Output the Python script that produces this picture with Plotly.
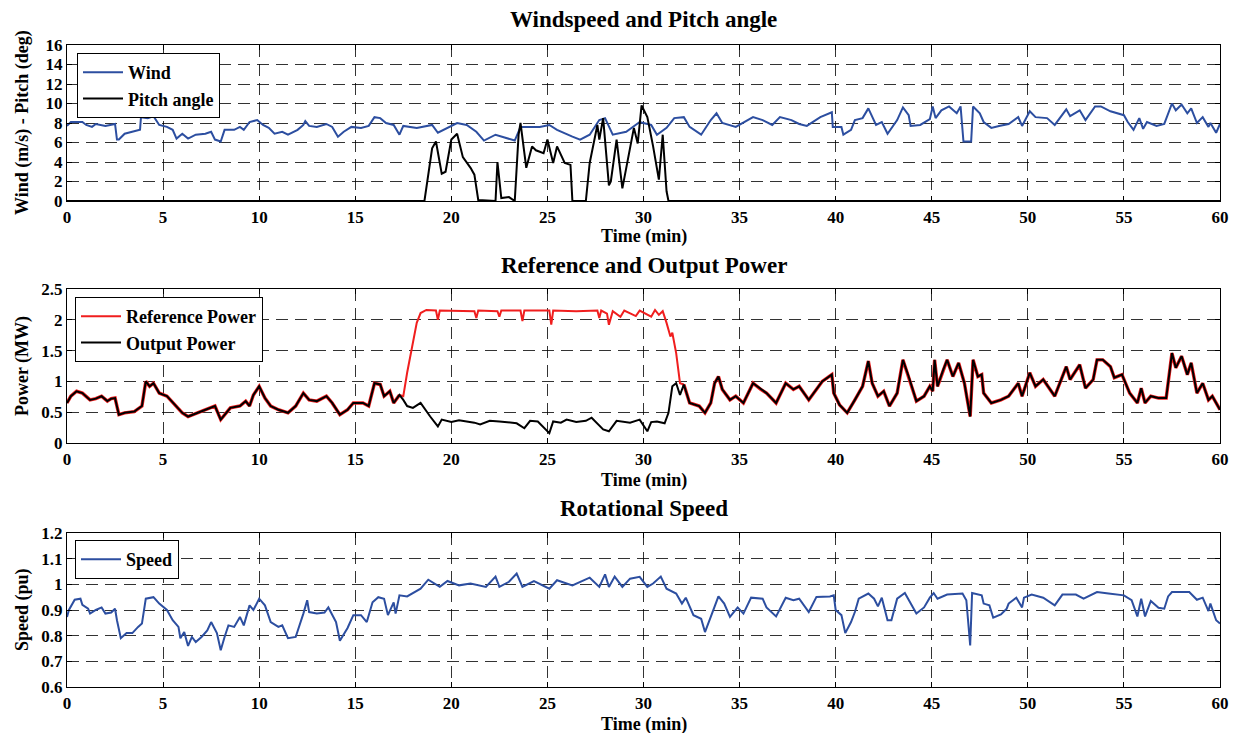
import plotly.graph_objects as go
from plotly.subplots import make_subplots

# ---- Windspeed and pitch angle ----
wind_t = [0, 0.2, 0.8, 1.0, 1.3, 1.5, 2.0, 2.5, 2.6, 2.7, 3.0, 3.5, 3.8, 3.85, 4.2, 4.5, 4.8,
          5.2, 5.5, 5.7, 6.0, 6.3, 6.7, 7.2, 7.5, 7.7, 8.0, 8.2, 8.7, 9.0, 9.2, 9.5, 9.9,
          10.2, 10.5, 10.8, 11.2, 11.5, 12.0, 12.3, 12.4, 12.6, 13.0, 13.5, 13.8, 14.1, 14.4,
          14.8, 15.3, 15.7, 16.0, 16.3, 16.6, 17.0, 17.3, 17.5, 18.2, 19.0, 19.3, 20.3, 20.8,
          21.3, 21.7, 22.3, 23.3, 23.6, 24.6, 25.1, 25.5, 26.3, 26.7, 27.2, 27.7, 28.0, 28.4,
          29.1, 29.8, 30.4, 30.7, 31.2, 31.6, 32.1, 32.4, 33.0, 33.5, 33.8, 34.1, 34.8, 35.7,
          36.2, 36.7, 37.1, 37.7, 38.1, 38.5, 39.2, 39.8, 39.85, 40.3, 40.4, 40.8, 41.0, 41.4,
          41.7, 42.1, 42.4, 42.7, 43.2, 43.5, 43.8, 43.9, 44.4, 44.9, 45.05, 45.2, 45.5, 45.9,
          46.3, 46.5, 46.65, 47.05, 47.15, 47.5, 47.7, 48.1, 48.5, 49.0, 49.5, 49.7, 50.1,
          50.4, 51.0, 51.4, 52.0, 52.2, 52.7, 53.0, 53.5, 53.8, 54.3, 54.6, 55.0, 55.2, 55.5,
          55.8, 56.0, 56.2, 56.7, 57.1, 57.5, 57.7, 58.0, 58.3, 58.5, 58.8, 59.1, 59.4, 59.5,
          59.8, 60.0]
wind_v = [7.7, 8.1, 8.1, 7.8, 7.6, 7.9, 7.7, 7.9, 6.3, 6.3, 6.9, 7.2, 7.3, 8.6, 8.5, 8.7, 7.8,
          7.6, 7.3, 6.4, 6.9, 6.4, 6.8, 6.9, 7.1, 6.3, 6.1, 7.3, 7.3, 7.6, 7.3, 8.1, 8.3,
          7.8, 7.5, 6.9, 7.1, 6.8, 7.3, 7.8, 8.2, 7.7, 7.6, 7.9, 7.6, 6.6, 7.1,
          7.6, 7.5, 7.7, 8.6, 8.5, 8.0, 7.8, 6.8, 7.7, 7.5, 7.8, 7.0, 8.0, 7.8,
          7.1, 6.2, 6.8, 6.2, 7.6, 7.6, 7.8, 7.3, 6.6, 6.3, 6.8, 8.3, 8.5, 6.8,
          7.1, 8.1, 7.8, 6.8, 7.5, 8.5, 8.6, 7.6, 6.8, 8.3, 9.0, 8.0, 7.6, 8.6,
          8.3, 7.8, 8.6, 8.3, 7.9, 7.7, 8.6, 9.1, 7.6, 7.6, 6.8, 7.3, 8.3, 8.5,
          9.5, 7.8, 8.1, 6.9, 8.3, 9.6, 8.8, 7.7, 7.8, 8.4, 9.7, 8.5, 9.3, 9.7,
          9.0, 9.7, 6.1, 6.1, 9.7, 9.0, 8.1, 7.5, 7.7, 7.9, 8.6, 7.7, 9.2,
          8.6, 8.5, 7.8, 9.4, 8.7, 9.3, 8.3, 9.7, 9.7, 9.2, 9.0, 8.8, 8.1, 7.3,
          8.5, 7.4, 8.1, 7.7, 7.9, 10.0, 9.3, 9.9, 9.0, 9.5, 8.0, 8.6, 7.6, 8.0,
          7.0, 7.9]

pitch_t = [0, 18.6, 19.0, 19.2, 19.5, 19.7, 20.0, 20.3, 20.6, 21.0, 21.2, 21.4, 22.3, 22.4,
           22.6, 23.0, 23.3, 23.5, 23.6, 23.9, 24.2, 24.4, 24.8, 25.0, 25.3, 25.5, 25.9,
           26.2, 26.3, 27.0, 27.2, 27.6, 27.7, 27.9, 28.2, 28.3, 28.6, 28.9, 29.5, 29.7,
           29.9, 30.2, 30.5, 30.8, 31.0, 31.2, 31.3, 60]
pitch_v = [0, 0, 5.4, 6.1, 2.8, 3.0, 6.3, 6.9, 4.5, 3.4, 2.7, 0.1, 0, 4.0,
           0.3, 0.4, 0, 6.8, 8.0, 3.4, 5.6, 5.2, 4.9, 6.3, 3.9, 5.6, 3.9,
           3.7, 0, 0, 3.9, 7.8, 6.3, 8.5, 1.6, 2.0, 6.3, 1.3, 7.5, 5.9,
           9.8, 8.6, 5.6, 2.2, 6.8, 1.0, 0, 0]

# ---- Reference and output power ----
out_t = [0, 0.2, 0.5, 0.8, 1.2, 1.5, 1.8, 2.1, 2.3, 2.5, 2.7, 3.0, 3.5, 3.9, 4.1, 4.3, 4.5,
         4.8, 5.2, 5.6, 6.0, 6.3, 6.8, 7.3, 7.7, 8.0, 8.5, 9.0, 9.3, 9.5, 9.7, 10.0, 10.3,
         10.6, 11.0, 11.5, 11.9, 12.3, 12.6, 13.0, 13.5, 13.8, 14.2, 14.6, 14.9, 15.4, 15.7,
         16.0, 16.3, 16.5, 16.8, 17.0, 17.3, 17.5, 17.7, 18.0, 18.4, 18.9, 19.3, 19.5, 20.0,
         20.4, 20.8, 21.2, 21.5, 22.0, 22.5, 23.0, 23.4, 23.8, 24.1, 24.5, 25.1, 25.3, 25.7,
         26.0, 26.5, 27.0, 27.3, 27.9, 28.2, 28.6, 28.9, 29.3, 29.8, 30.2, 30.4, 30.7, 31.1,
         31.3, 31.5, 31.7, 31.9, 32.1, 32.4, 32.9, 33.2, 33.5, 33.7, 33.9, 34.1, 34.5, 34.8,
         35.2, 35.7, 36.1, 36.4, 36.9, 37.4, 37.8, 38.1, 38.6, 39.3, 39.8, 39.9, 40.2, 40.6,
         41.0, 41.4, 41.7, 41.9, 42.2, 42.5, 42.8, 43.2, 43.5, 43.8, 44.2, 44.6, 44.9, 45.05,
         45.15, 45.3, 45.6, 45.8, 46.1, 46.4, 46.7, 47.0, 47.15, 47.4, 47.6, 47.7, 48.1, 48.6,
         49.0, 49.5, 49.7, 50.1, 50.4, 50.8, 51.4, 52.0, 52.2, 52.7, 53.0, 53.4, 53.6, 53.9,
         54.3, 54.5, 54.9, 55.3, 55.7, 55.9, 56.1, 56.4, 56.8, 57.2, 57.5, 57.7, 58.0, 58.3,
         58.5, 58.8, 59.1, 59.4, 59.6, 60.0]
out_p = [0.65, 0.76, 0.84, 0.81, 0.70, 0.72, 0.76, 0.68, 0.72, 0.73, 0.46, 0.49, 0.51, 0.60, 1.00, 0.92, 0.97,
         0.81, 0.76, 0.62, 0.49, 0.43, 0.49, 0.54, 0.60, 0.38, 0.57, 0.60, 0.68, 0.60, 0.78, 0.92, 0.73,
         0.60, 0.54, 0.49, 0.60, 0.81, 0.70, 0.68, 0.76, 0.65, 0.46, 0.54, 0.65, 0.65, 0.60,
         0.97, 0.95, 0.76, 0.84, 0.65, 0.78, 0.70, 0.60, 0.57, 0.65, 0.43, 0.27, 0.38, 0.34,
         0.37, 0.35, 0.33, 0.30, 0.36, 0.35, 0.33, 0.32, 0.24, 0.36, 0.35, 0.16, 0.35, 0.33,
         0.38, 0.34, 0.36, 0.41, 0.22, 0.19, 0.36, 0.35, 0.33, 0.38, 0.19, 0.34, 0.35, 0.32,
         0.49, 0.92, 0.97, 0.78, 0.95, 0.65, 0.60, 0.49, 0.65, 0.97, 1.08, 0.87, 0.70, 0.76,
         0.65, 0.97, 0.87, 0.81, 0.65, 0.97, 0.87, 0.92, 0.70, 1.00, 1.11, 0.81, 0.62, 0.49,
         0.70, 0.92, 1.33, 0.97, 0.76, 0.84, 0.60, 0.81, 1.35, 1.08, 0.68, 0.76, 0.92, 0.84,
         1.35, 0.92, 1.19, 1.35, 1.08, 1.30, 0.97, 0.43, 1.35, 1.08, 1.11, 0.81, 0.65, 0.70,
         0.76, 0.97, 0.76, 1.14, 0.92, 1.03, 0.76, 1.24, 1.03, 1.27, 0.89, 1.03, 1.35, 1.35,
         1.24, 1.06, 1.11, 0.81, 0.65, 0.89, 0.65, 0.76, 0.73, 0.73, 1.46, 1.22, 1.41, 1.11,
         1.30, 0.81, 0.97, 0.70, 0.76, 0.54]

# reference power where it departs from the output (17.3 - 32.1 min)
ref_mid_t = [17.3, 17.5, 17.7, 18.0, 18.2, 18.4, 18.7, 19.2, 19.3, 19.4, 20.5, 21.2, 21.3, 21.4, 22.4,
             22.5, 22.6, 23.6, 23.7, 23.8, 25.1, 25.2, 25.3, 26.5, 27.6, 27.7, 27.8, 28.1,
             28.2, 28.4, 28.8, 29.0, 29.6, 29.8, 30.4, 30.6, 30.8, 31.0, 31.2, 31.4, 31.5,
             31.7, 31.9, 32.1]
ref_mid_p = [0.78, 0.76, 1.14, 1.62, 1.95, 2.11, 2.16, 2.15, 2.00, 2.15, 2.15, 2.14, 2.03, 2.15, 2.14,
             2.05, 2.15, 2.15, 1.98, 2.15, 2.15, 1.92, 2.15, 2.14, 2.15, 2.03, 2.15, 2.10,
             1.92, 2.14, 2.05, 2.15, 2.06, 2.15, 2.05, 2.16, 2.08, 2.14, 1.95, 1.73, 1.79,
             1.46, 0.97, 0.95]

# ---- Rotational speed ----
speed_t = [0, 0.1, 0.4, 0.7, 0.8, 1.1, 1.2, 1.5, 1.8, 2.0, 2.3, 2.5, 2.6, 2.8, 3.1, 3.4, 3.7,
           3.9, 4.1, 4.5, 4.8, 5.2, 5.5, 5.8, 5.9, 6.1, 6.3, 6.5, 6.7, 7.0, 7.3, 7.5, 7.8, 8.0,
           8.2, 8.4, 8.7, 9.0, 9.2, 9.5, 9.7, 10.0, 10.3, 10.6, 11.0, 11.2, 11.5, 11.9, 12.3,
           12.5, 12.6, 13.0, 13.4, 13.6, 14.0, 14.2, 14.6, 14.9, 15.3, 15.6, 15.9, 16.2, 16.5,
           16.7, 17.0, 17.1, 17.3, 17.7, 18.4, 18.8, 19.4, 19.8, 20.4, 21.0, 21.8, 22.3, 22.5,
           23.0, 23.4, 23.7, 24.3, 25.1, 25.5, 26.3, 27.2, 27.7, 28.0, 28.2, 28.5, 28.9, 29.3,
           29.8, 30.2, 30.5, 30.9, 31.2, 31.7, 32.0, 32.2, 32.6, 33.0, 33.2, 33.5, 33.9, 34.2,
           34.5, 34.9, 35.2, 35.6, 36.2, 36.4, 36.9, 37.4, 37.8, 38.1, 38.6, 39.0, 39.7, 39.9,
           40.0, 40.3, 40.5, 40.8, 41.0, 41.2, 41.7, 42.0, 42.2, 42.4, 42.7, 42.9, 43.2, 43.6,
           43.8, 44.2, 44.6, 44.9, 45.1, 45.3, 45.8, 46.6, 46.8, 47.0, 47.1, 47.6, 47.7, 48.0,
           48.2, 48.6, 48.9, 49.0, 49.4, 49.7, 49.8, 50.2, 50.8, 51.4, 51.8, 52.5, 52.9, 53.6,
           54.2, 55.0, 55.4, 55.7, 55.9, 56.1, 56.4, 56.8, 57.1, 57.3, 57.5, 58.4, 58.8, 59.1,
           59.4, 59.5, 59.8, 60.0]
speed_v = [0.873, 0.90, 0.94, 0.944, 0.92, 0.905, 0.886, 0.90, 0.91, 0.886, 0.89, 0.905, 0.86, 0.79, 0.81, 0.81, 0.834,
           0.847, 0.944, 0.95, 0.925, 0.90, 0.86, 0.834, 0.79, 0.814, 0.76, 0.795, 0.775, 0.795, 0.82, 0.853, 0.81, 0.743,
           0.795, 0.84, 0.834, 0.873, 0.84, 0.918, 0.90, 0.944, 0.918, 0.853, 0.834, 0.84, 0.79, 0.795, 0.886,
           0.938, 0.892, 0.886, 0.89, 0.91, 0.853, 0.78, 0.83, 0.88, 0.88, 0.853, 0.93, 0.95, 0.944,
           0.88, 0.93, 0.886, 0.957, 0.953, 0.983, 1.018, 0.99, 1.013, 0.996, 1.003, 0.99, 1.03, 0.99,
           1.01, 1.042, 0.99, 1.013, 0.983, 1.016, 0.996, 1.026, 0.99, 1.039, 0.99, 1.03, 0.99, 1.022,
           1.029, 0.99, 1.003, 1.03, 0.983, 0.964, 0.925, 0.948, 0.88, 0.866, 0.814, 0.873, 0.953, 0.925,
           0.873, 0.91, 0.886, 0.948, 0.944, 0.91, 0.875, 0.948, 0.938, 0.944, 0.892, 0.951, 0.953, 0.957,
           0.90, 0.88, 0.81, 0.853, 0.892, 0.944, 0.964, 0.944, 0.914, 0.948, 0.86, 0.86, 0.944, 0.966,
           0.938, 0.886, 0.91, 0.948, 0.966, 0.944, 0.96, 0.964, 0.938, 0.762, 0.966, 0.957, 0.925, 0.918,
           0.87, 0.883, 0.905, 0.925, 0.948, 0.91, 0.948, 0.96, 0.948, 0.918, 0.96, 0.96, 0.944, 0.97,
           0.964, 0.957, 0.938, 0.875, 0.944, 0.875, 0.935, 0.909, 0.905, 0.953, 0.97, 0.97, 0.94, 0.948,
           0.896, 0.925, 0.86, 0.847]

# outside the curtailment window the reference equals the output; draw it as a thin red rim
rim_t = [t for t in out_t if t <= 17.3] + [None] + [t for t in out_t if t >= 32.1]
rim_p = [p for t, p in zip(out_t, out_p) if t <= 17.3] + [None] + \
        [p for t, p in zip(out_t, out_p) if t >= 32.1]

BLUE = 'rgb(44,78,160)'
RED = 'rgb(240,30,30)'
FONT = 'Liberation Serif'
H = 733.0
OFF = 8  # page body margin


def py(px):
    return 1 - (px - OFF) / H


fig = make_subplots(rows=3, cols=1)

fig.add_trace(go.Scatter(x=wind_t, y=wind_v, mode='lines', name='Wind',
                         line=dict(color=BLUE, width=2), legend='legend'), row=1, col=1)
fig.add_trace(go.Scatter(x=pitch_t, y=pitch_v, mode='lines', name='Pitch angle',
                         line=dict(color='black', width=2), legend='legend'), row=1, col=1)
fig.add_trace(go.Scatter(x=rim_t, y=rim_p, mode='lines', showlegend=False,
                         line=dict(color=RED, width=3.4)), row=2, col=1)
fig.add_trace(go.Scatter(x=ref_mid_t, y=ref_mid_p, mode='lines', name='Reference Power',
                         line=dict(color=RED, width=2), legend='legend2'), row=2, col=1)
fig.add_trace(go.Scatter(x=out_t, y=out_p, mode='lines', name='Output Power',
                         line=dict(color='black', width=2), legend='legend2'), row=2, col=1)
fig.add_trace(go.Scatter(x=speed_t, y=speed_v, mode='lines', name='Speed',
                         line=dict(color=BLUE, width=2), legend='legend3'), row=3, col=1)

domains = [(45, 201), (289, 443), (533, 687)]
yranges = [(0, 16, 2), (0, 2.5, 0.5), (0.6, 1.2, 0.1)]
ytitles = ['Wind (m/s) - Pitch (deg)', 'Power (MW)', 'Speed (pu)']

axis_common = dict(showline=True, linecolor='black', linewidth=1.3, mirror='allticks',
                   ticks='inside', ticklen=5, tickcolor='black', tickwidth=1,
                   showgrid=True, gridcolor='rgba(0,0,0,0.8)', gridwidth=1, griddash='12px,7px',
                   zeroline=False, automargin=False,
                   tickfont=dict(family=FONT, size=17, color='black', weight='bold'))

for i in range(3):
    top, bot = domains[i]
    lo, hi, step = yranges[i]
    fig.update_yaxes(domain=[py(bot), py(top)], range=[lo, hi], dtick=step,
                     tick0=lo, **axis_common, row=i + 1, col=1)
    fig.update_xaxes(range=[0, 60], dtick=5, tick0=0, **axis_common, row=i + 1, col=1)
    fig.add_annotation(text=ytitles[i], x=-0.039, y=py((top + bot) / 2), xref='paper', yref='paper',
                       showarrow=False, textangle=-90, xanchor='center', yanchor='middle',
                       font=dict(family=FONT, size=18, color='black', weight='bold'))

# x axis titles
for ypix in [237, 480, 724]:
    fig.add_annotation(text='Time (min)', x=0.5, y=py(ypix), xref='paper', yref='paper',
                       showarrow=False, yanchor='middle',
                       font=dict(family=FONT, size=18, color='black', weight='bold'))

# panel titles
for text, ypix in [('Windspeed and Pitch angle', 20), ('Reference and Output Power', 265),
                   ('Rotational Speed', 508)]:
    fig.add_annotation(text=text, x=0.5, y=py(ypix), xref='paper', yref='paper',
                       showarrow=False, yanchor='middle',
                       font=dict(family=FONT, size=23, color='black', weight='bold'))

legend_style = dict(bgcolor='white', bordercolor='black', borderwidth=1,
                    xanchor='left', yanchor='top', itemwidth=40,
                    font=dict(family=FONT, size=18, color='black', weight='bold'))
fig.update_layout(
    width=1241, height=733,
    margin=dict(l=67 - OFF, r=1241 - (1220 - OFF), t=0, b=0),
    plot_bgcolor='white', paper_bgcolor='white',
    legend=dict(x=(77 - 67) / 1153, y=py(53), **legend_style),
    legend2=dict(x=(75 - 67) / 1153, y=py(297), **legend_style),
    legend3=dict(x=(75 - 67) / 1153, y=py(540), **legend_style),
)

fig.write_html("out.html")
